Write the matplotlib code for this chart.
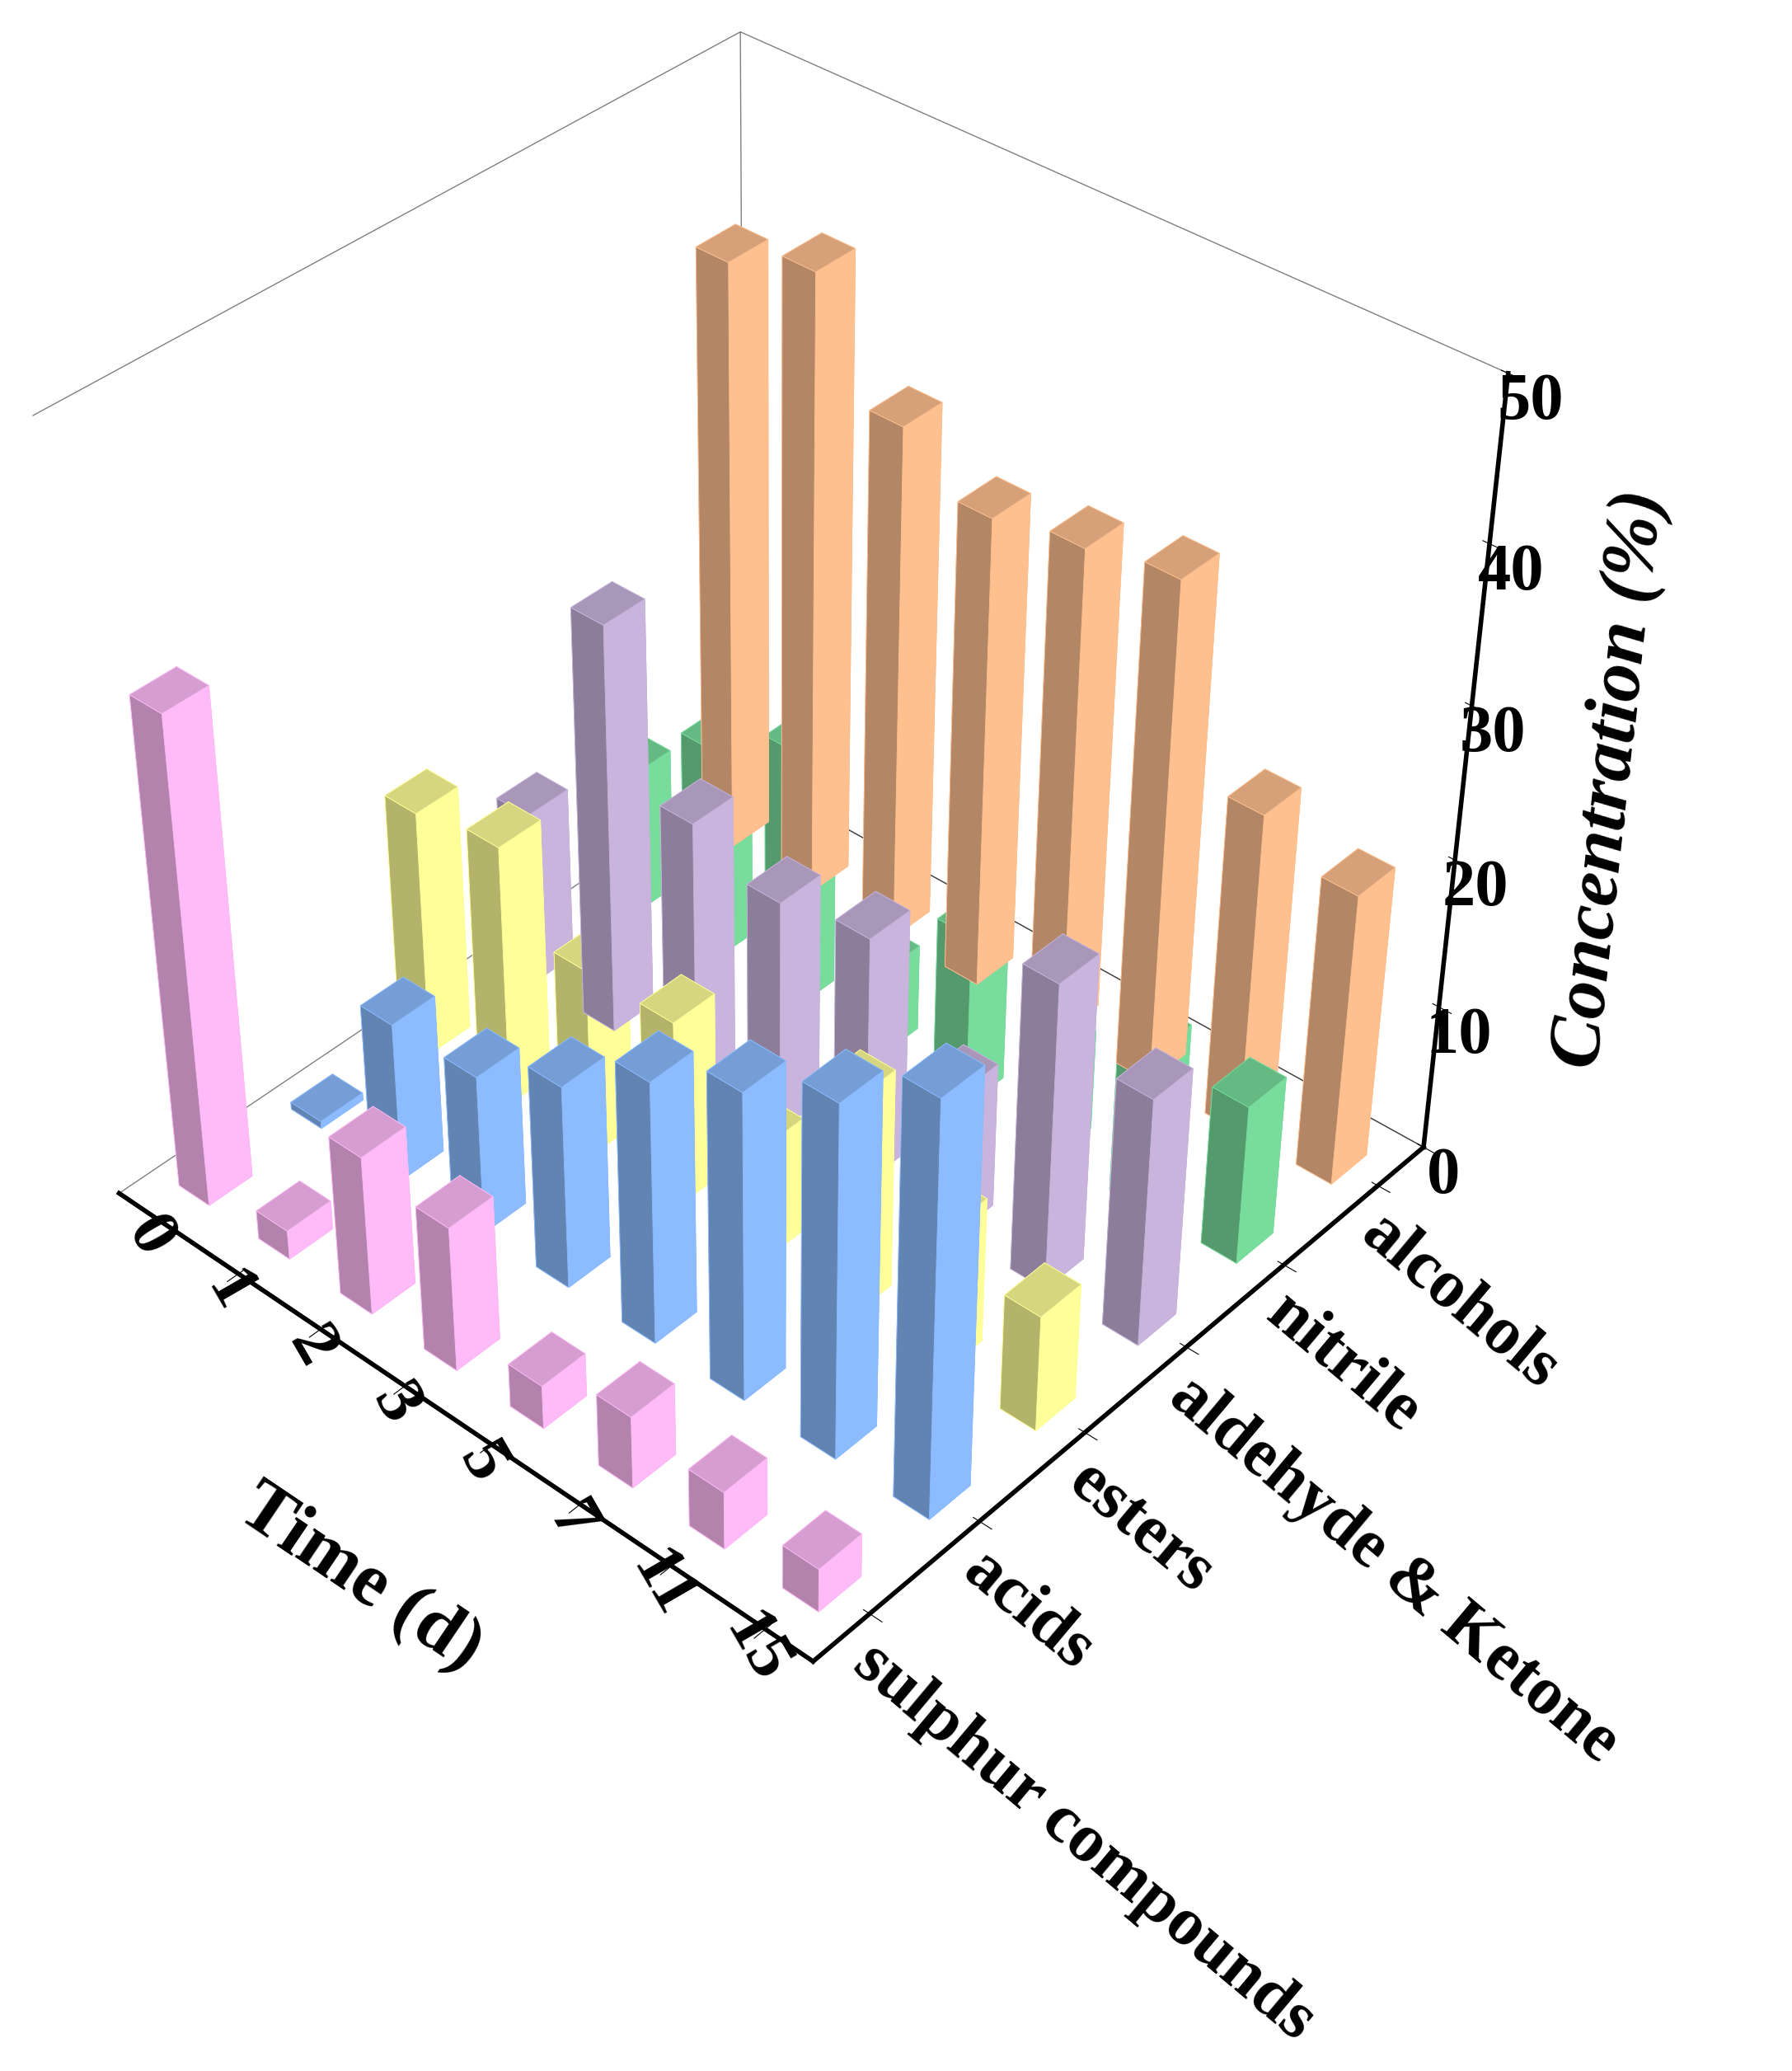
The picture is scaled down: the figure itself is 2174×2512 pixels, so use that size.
import matplotlib
matplotlib.use("Agg")
import matplotlib.pyplot as plt
import matplotlib.colors as mcolors
import numpy as np

times = ["0", "1", "2", "3", "5", "7", "11", "15"]
categories = ["sulphur compounds", "acids", "esters", "aldehyde & Ketone", "nitrile", "alcohols"]
sulphur = [33, 2, 11, 10, 3, 5, 4, 3]
acids = [0.5, 11, 11, 14, 18, 21, 24, 28]
esters = [17, 18, 13, 13, 8, 15, 10, 8]
aldehyde = [12, 28, 18, 16, 17, 10, 21, 17]
nitrile = [10, 15, 18, 6, 12, 7, 11, 11]
alcohols = [40, 42, 35, 32, 33, 34, 22, 20]
series = [sulphur, acids, esters, aldehyde, nitrile, alcohols]
colors = ["#ffbbf8", "#8cbcff", "#ffff99", "#c8b4dc", "#78dc9c", "#ffc090"]

plt.rcParams['font.family'] = ['Liberation Serif', 'DejaVu Serif']
plt.rcParams['font.weight'] = 'bold'
fig = plt.figure(figsize=(21.74, 25.12), dpi=100)
ax = fig.add_axes([-0.04, 0.14, 0.92, 0.92], projection='3d')
ax.view_init(elev=38, azim=-48)
ax.set_proj_type('persp', focal_length=0.55)


def shades(c):
    r = np.array(mcolors.to_rgb(c))
    # bottom, top, -y, +y, -x, +x
    f = [0.6, 0.84, 0.7, 0.7, 0.7, 1.0]
    return [tuple(np.clip(r * k, 0, 1)) for k in f]


w = 0.38
for j, vals in enumerate(series):
    for i, v in enumerate(vals):
        ax.bar3d(i - w / 2, j - w / 2, 0, w, w, v, color=shades(colors[j]), shade=False,
                 edgecolor=colors[j], linewidth=0.6)

ax.set_xlim(-0.5, 7.5)
ax.set_ylim(-0.5, 5.5)
ax.set_zlim(0, 50)
ax.set_box_aspect((1, 1, 1.0))
for a in (ax.xaxis, ax.yaxis, ax.zaxis):
    a.pane.fill = False
    a.pane.set_edgecolor('black')
    a.pane.set_linewidth(1.0)
    a._axinfo['grid']['linewidth'] = 0
    a.line.set_linewidth(4)
ax.grid(False)
ax.set_xticks(range(len(times)))
ax.set_xticklabels(times, fontsize=60, fontweight='bold', rotation=-60, va='center', ha='center')
ax.set_yticks(range(len(categories)))
ax.set_yticklabels(categories, fontsize=60, fontweight='bold', ha='left', va='top', rotation=-40,
                   rotation_mode='anchor')
ax.set_zticks([0, 10, 20, 30, 40, 50])
ax.set_zticklabels(['0', '10', '20', '30', '40', '50'], fontsize=58, fontweight='bold')
ax.set_xlabel('Time (d)', fontsize=66, fontweight='bold', labelpad=80, rotation=-40)
ax.set_zlabel('Concentration (%)', fontsize=66, fontweight='bold', style='italic', labelpad=60,
              rotation=80)
ax.tick_params(axis='both', width=4, length=14)
fig.savefig('out.png', dpi=100)
